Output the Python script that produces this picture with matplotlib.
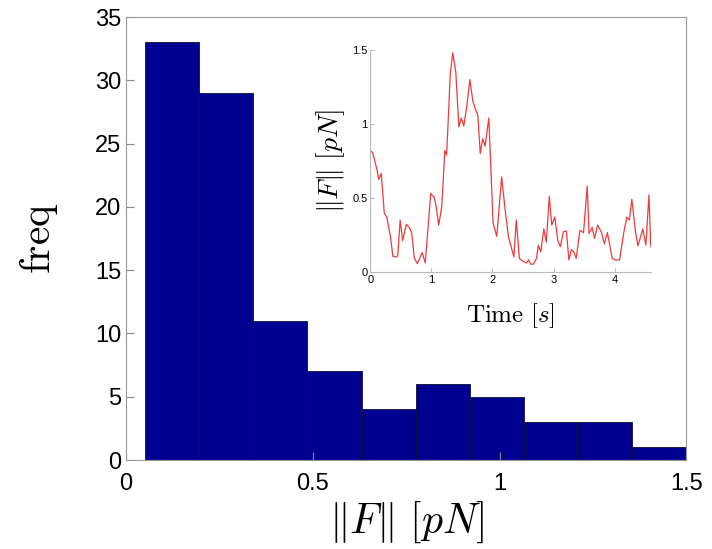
import numpy as np
import matplotlib.pyplot as plt

plt.rcParams['mathtext.fontset'] = 'cm'
plt.rcParams['font.family'] = ['Liberation Sans', 'DejaVu Sans']

# histogram of |F|
bin_start = 0.051
bin_width = 0.1449
counts = [33, 29, 11, 7, 4, 6, 5, 3, 3, 1]

# inset time series
t = [0.0, 0.04, 0.11, 0.14, 0.18, 0.23, 0.27, 0.33, 0.37, 0.43, 0.45, 0.49, 0.53,
     0.59, 0.64, 0.68, 0.72, 0.77, 0.85, 0.90, 0.99, 1.05, 1.08, 1.12, 1.17,
     1.22, 1.25, 1.31, 1.35, 1.40, 1.45, 1.49, 1.53, 1.58, 1.63, 1.68, 1.73,
     1.76, 1.80, 1.84, 1.88, 1.94, 2.01, 2.07, 2.15, 2.21, 2.26, 2.35, 2.39,
     2.44, 2.51, 2.56, 2.59, 2.63, 2.67, 2.72, 2.75, 2.79, 2.84, 2.88, 2.93,
     2.97, 3.02, 3.07, 3.11, 3.16, 3.21, 3.25, 3.29, 3.33, 3.37, 3.43, 3.49,
     3.55, 3.58, 3.63, 3.67, 3.72, 3.78, 3.83, 3.88, 3.96, 4.01, 4.08, 4.15,
     4.20, 4.24, 4.28, 4.34, 4.38, 4.46, 4.51, 4.56, 4.59]
f = [0.82, 0.805, 0.69, 0.625, 0.665, 0.395, 0.37, 0.24, 0.105, 0.10, 0.11, 0.35,
     0.21, 0.32, 0.30, 0.26, 0.095, 0.055, 0.13, 0.06, 0.53, 0.50, 0.44, 0.315,
     0.44, 0.82, 0.79, 1.34, 1.48, 1.35, 0.98, 1.04, 0.985, 1.12, 1.30, 1.15,
     1.09, 1.06, 0.80, 0.90, 0.85, 1.04, 0.33, 0.24, 0.64, 0.41, 0.24, 0.10,
     0.35, 0.09, 0.068, 0.06, 0.08, 0.05, 0.052, 0.09, 0.18, 0.135, 0.29, 0.20,
     0.51, 0.315, 0.37, 0.21, 0.17, 0.27, 0.275, 0.08, 0.15, 0.135, 0.09, 0.28,
     0.265, 0.58, 0.26, 0.30, 0.225, 0.315, 0.27, 0.19, 0.265, 0.09, 0.08, 0.08,
     0.27, 0.37, 0.35, 0.49, 0.27, 0.175, 0.29, 0.18, 0.52, 0.17]

fig = plt.figure(figsize=(7.12, 5.49), dpi=100)
ax = fig.add_axes([0.177, 0.162, 0.787, 0.807])

left_edges = bin_start + bin_width * np.arange(len(counts))
ax.bar(left_edges, counts, width=bin_width, align='edge',
       color='#000090', edgecolor='#101030', linewidth=0.6)
ax.set_xlim(0, 1.5)
ax.set_ylim(0, 35)
ax.set_xticks([0, 0.5, 1, 1.5])
ax.set_xticklabels(['0', '0.5', '1', '1.5'])
ax.set_yticks(range(0, 36, 5))
ax.tick_params(direction='in', labelsize=17, length=6, color='#888888')
ax.tick_params(axis='x', pad=9)
for s in ax.spines.values():
    s.set_color('#999999')
ax.set_xlabel(r'$\|F\|\ [pN]$', fontsize=30, labelpad=4)
ax.set_ylabel(r'$\mathrm{freq}$', fontsize=30, labelpad=25)

ins = fig.add_axes([0.52, 0.505, 0.394, 0.404])
ins.plot(t, f, color='#ee3a3a', linewidth=0.9)
ins.set_xlim(0, 4.59)
ins.set_ylim(0, 1.5)
ins.set_xticks([0, 1, 2, 3, 4])
ins.set_yticks([0, 0.5, 1, 1.5])
ins.set_yticklabels(['0', '0.5', '1', '1.5'])
ins.spines['top'].set_visible(False)
ins.spines['right'].set_visible(False)
for s in ['left', 'bottom']:
    ins.spines[s].set_color('#bbbbbb')
ins.tick_params(direction='in', labelsize=8, length=3, color='#bbbbbb', pad=2)
ins.set_xlabel(r'$\mathrm{Time}\ [s]$', fontsize=18, labelpad=12)
ins.set_ylabel(r'$\|F\|\ [pN]$', fontsize=20, labelpad=4)

fig.savefig('out.png', dpi=100)
